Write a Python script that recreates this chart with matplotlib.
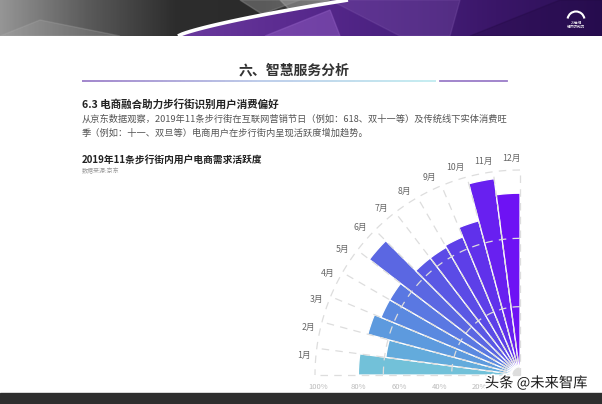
import numpy as np
import matplotlib
matplotlib.use("Agg")
import matplotlib.pyplot as plt
from matplotlib.patches import Polygon, Rectangle, Arc
from matplotlib.collections import LineCollection
import matplotlib.patheffects as pe

plt.rcParams['font.family'] = ['Noto Sans CJK SC', 'DejaVu Sans']

# data
months = ['1月', '2月', '3月', '4月', '5月', '6月', '7月', '8月', '9月', '10月', '11月', '12月']
activity = [80, 67, 78, 74.5, 74.5, 94, 73, 73, 74, 79, 98, 90]
r_ticks = [100, 80, 60, 40, 20]
r_tick_labels = ['100%', '80%', '60%', '40%', '20%']
r_max = 101.5

bar_colors = ['#72c1d9', '#63abdc', '#5d9ade', '#5a89e0', '#5a78e2', '#5b67e2',
              '#5a58e4', '#5b4be6', '#5d3fe8', '#6031eb', '#6820f0', '#6e12f4']

W, H = 602, 404
fig = plt.figure(figsize=(W / 100, H / 100), dpi=100)
fig.patch.set_facecolor('white')


def fx(x):
    return x / W


def fy(y):
    return 1 - y / H


# ---- header banner ----
hd = fig.add_axes([0, fy(36), 1, 36 / H])
hd.set_xlim(0, W)
hd.set_ylim(36, 0)
hd.axis('off')
purple = matplotlib.colors.LinearSegmentedColormap.from_list(
    'p', ['#6a3a9e', '#5b2b90', '#4a2180', '#3a1668', '#2a0f55'])
grad = np.linspace(0, 1, 300).reshape(1, -1)
hd.imshow(grad, cmap=purple, extent=[180, W, 36, 0], aspect='auto')
gray = matplotlib.colors.LinearSegmentedColormap.from_list(
    'g', ['#959595', '#5a5a5a', '#2d2d2d', '#2b2b2b', '#555555'])
im = hd.imshow(grad, cmap=gray, extent=[0, 350, 36, 0], aspect='auto')
t = np.linspace(0, 1, 40)
cx = 178 + 170 * t - 10 * t * (1 - t)
cy = 36 - 36 * t ** 0.8
gray_poly = Polygon(np.column_stack([np.r_[0, cx, 0], np.r_[36, cy, 0]]),
                    closed=True, transform=hd.transData)
im.set_clip_path(gray_poly)
hd.add_patch(Polygon([[240, 0], [300, 0], [262, 14]], color='#7a7a7a', alpha=0.6))
hd.add_patch(Polygon([[280, 0], [330, 0], [290, 10]], color='#9a9a9a', alpha=0.6))
hd.add_patch(Polygon([[0, 36], [120, 36], [40, 20]], color='#b0b0b0', alpha=0.25))
hd.add_patch(Polygon([[265, 36], [330, 10], [340, 36]], color='#8e5cc0', alpha=0.5))
hd.add_patch(Polygon([[330, 0], [460, 0], [450, 36], [400, 36]], color='#7a52a8', alpha=0.35))
hd.add_patch(Polygon([[470, 36], [560, 0], [602, 0], [602, 36]], color='#20083f', alpha=0.3))
hd.plot(cx, cy, color='white', lw=2.6, solid_capstyle='butt')
hd.add_patch(Arc((576, 20), 17, 17, theta1=190, theta2=350, color='white', lw=1.5))
hd.text(576, 25, '21世纪\n经济研究院', color='white', fontsize=2.6, ha='center',
        va='center', linespacing=1.0)

# ---- page title ----
fig.text(fx(294), fy(70), '六、智慧服务分析', fontsize=10, fontweight='bold',
         color='#333333', ha='center', va='center')
xs = np.linspace(82, 436, 80)
segs = [[(fx(a), fy(81)), (fx(b), fy(81))] for a, b in zip(xs[:-1], xs[1:])]
cmap_line = matplotlib.colors.LinearSegmentedColormap.from_list(
    'l', ['#9a7cc8', '#b8c8e8', '#c0ecf0'])
lc = LineCollection(segs, colors=cmap_line(np.linspace(0, 1, len(segs))),
                    linewidths=1.3, transform=fig.transFigure)
fig.add_artist(lc)
fig.add_artist(plt.Line2D([fx(440), fx(507)], [fy(81), fy(81)], color='#9a7cc8',
                          lw=1.3, transform=fig.transFigure))

fig.text(fx(82), fy(104), '6.3 电商融合助力步行街识别用户消费偏好', fontsize=7.6,
         fontweight='bold', color='#222222', va='center')
fig.text(fx(82), fy(119),
         '从京东数据观察，2019年11条步行街在互联网营销节日（例如：618、双十一等）及传统线下实体消费旺',
         fontsize=6.65, color='#555555', va='center')
fig.text(fx(82), fy(133), '季（例如：十一、双旦等）电商用户在步行街内呈现活跃度增加趋势。',
         fontsize=6.65, color='#555555', va='center')
fig.text(fx(82), fy(160), '2019年11条步行街内用户电商需求活跃度', fontsize=7,
         fontweight='bold', color='#222222', va='center')
fig.text(fx(82), fy(171.5), '数据来源:京东', fontsize=4.3, color='#999999', va='center')

# ---- polar bar chart ----
ax = fig.add_axes([fx(315), fy(375), 205 / W, 205 / H], projection='polar')
ax.set_thetamin(90)
ax.set_thetamax(180)
step = np.deg2rad(90 / len(months))
theta = np.pi - step * (np.arange(len(months)) + 0.5)
ax.bar(theta, activity, width=step, bottom=0, color=bar_colors,
       edgecolor='white', linewidth=0.9, zorder=1)
ax.set_ylim(0, r_max)
# axis off drops the solid start/end lines; grid is drawn by hand below
ax.axis('off')

# dashed grid drawn on top of the bars
grid_style = dict(color='#dddddd', linestyle=(0, (6, 5)), linewidth=0.9,
                  zorder=3, clip_on=False)
for b in np.deg2rad(np.arange(90, 180.1, 90 / len(months))):
    ax.plot([b, b], [0, r_max], **grid_style)
arc_t = np.linspace(np.pi / 2, np.pi, 200)
for rr in [r_max / 3, 2 * r_max / 3, r_max]:
    ax.plot(arc_t, np.full_like(arc_t, rr), **grid_style)

label_shift = np.deg2rad(1.5)
for th, m in zip(theta, months):
    ax.text(th - label_shift, 107.5, m, fontsize=6.3, color='#666666',
            ha='center', va='center')
for r, lab in zip(r_ticks, r_tick_labels):
    ax.annotate(lab, xy=(np.pi, r), xytext=(0, -5.5), textcoords='offset points',
                fontsize=5.5, color='#bbbbbb', ha='center', va='top',
                annotation_clip=False)

# ---- watermark and bottom strip ----
fig.add_artist(Rectangle((0, 0), 1, 11 / H, transform=fig.transFigure,
                         color='#2e2e2e', zorder=5))
fig.text(fx(536), fy(383), '头条 @未来智库', fontsize=10.3, color='#1a1a1a',
         ha='center', va='center', zorder=6,
         path_effects=[pe.withStroke(linewidth=2.5, foreground='white')])

fig.savefig('out.png', dpi=100)
